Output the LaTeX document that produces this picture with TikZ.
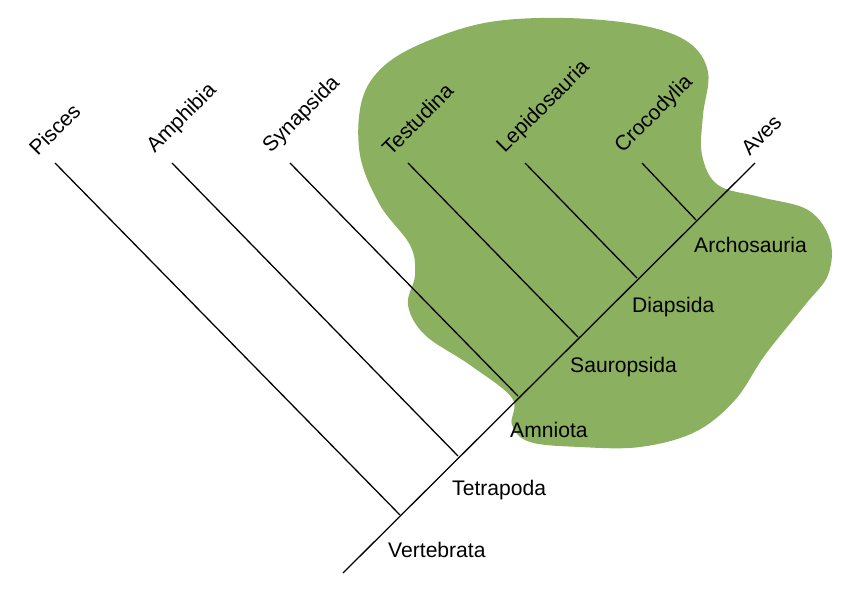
\documentclass[tikz,border=0pt]{standalone}
\usepackage{fontspec}
\setmainfont{Liberation Sans}
\begin{document}
\begin{tikzpicture}[x=0.03cm,y=-0.03cm,
  br/.style={line width=1.1pt,black},
  lab/.style={font=\fontsize{18}{21}\selectfont,inner sep=0pt},
  tip/.style={lab,rotate=45,anchor=south west}]
\useasboundingbox (0,0) rectangle (860,615);
\fill[white] (0,0) rectangle (860,615);
\fill[fill={rgb,255:red,139;green,176;blue,96}] plot[smooth cycle,tension=0.6] coordinates{
(512,398)(470,365)(425,335)(408,305)(415,275)(410,245)(380,205)(360,155)(362,100)(385,65)(430,40)(490,22)(565,18)(640,25)(688,42)(708,72)(703,115)(702,155)(718,185)(760,197)(808,210)(830,240)(828,275)(805,305)(765,355)(735,400)(695,432)(640,447)(580,447)(530,442)(512,425)};
\coordinate (root) at (343,573);
\coordinate (ave) at (755,163);
\coordinate (v) at (400,515);
\coordinate (t) at (458,456);
\coordinate (am) at (518,396);
\coordinate (s) at (578,337);
\coordinate (d) at (637,278);
\coordinate (ar) at (696,220);
\coordinate (l1) at (55,163);
\coordinate (l2) at (172,163);
\coordinate (l3) at (290,163);
\coordinate (l4) at (408,163);
\coordinate (l5) at (525,163);
\coordinate (l6) at (642,163);
\draw[br] (root)--(ave);
\draw[br] (l1)--(v); \draw[br] (l2)--(t); \draw[br] (l3)--(am);
\draw[br] (l4)--(s); \draw[br] (l5)--(d); \draw[br] (l6)--(ar);
\node[tip] (n1) at (38,157) {Pisces};
\node[tip] (n2) at (158,157) {Amphibia};
\node[tip] (n3) at (274,157) {Synapsida};
\node[tip] (n4) at (391,157) {Testudina};
\node[tip] (n5) at (508,157) {Lepidosauria};
\node[tip] (n6) at (626,157) {Crocodylia};
\node[tip] (n7) at (750,157) {Aves};
\node[lab,anchor=west] (c1) at (388,550) {Vertebrata};
\node[lab,anchor=west] (c2) at (452,490) {Tetrapoda};
\node[lab,anchor=west] (c3) at (510,430) {Amniota};
\node[lab,anchor=west] (c4) at (570,367) {Sauropsida};
\node[lab,anchor=west] (c5) at (632,307) {Diapsida};
\node[lab,anchor=west] (c6) at (694,245) {Archosauria};
\end{tikzpicture}
\end{document}
